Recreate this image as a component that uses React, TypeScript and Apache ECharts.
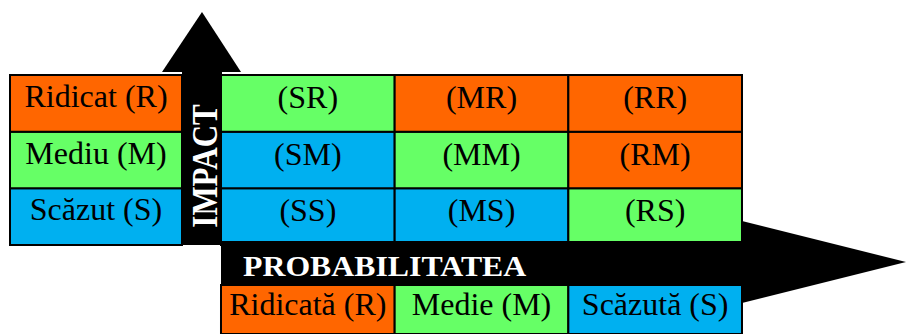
import React, { useEffect, useRef } from "react";
import * as echarts from "echarts";

// Impact levels, listed bottom to top
const impactLevels = ["Scăzut (S)", "Mediu (M)", "Ridicat (R)"];
const impactColors = ["blue", "green", "orange"];
// Probability levels, listed left to right
const probabilityLevels = ["Ridicată (R)", "Medie (M)", "Scăzută (S)"];
const probabilityColors = ["orange", "green", "blue"];
// Matrix codes: row index = impact level (bottom to top), column index = left to right
const matrixCodes = [
  ["(SS)", "(MS)", "(RS)"],
  ["(SM)", "(MM)", "(RM)"],
  ["(SR)", "(MR)", "(RR)"],
];
const matrixColors = [
  ["blue", "blue", "green"],
  ["blue", "green", "orange"],
  ["green", "orange", "orange"],
];
const xTitle = "PROBABILITATEA";
const yTitle = "IMPACT";

const PALETTE: Record<string, string> = {
  orange: "#FF6600",
  green: "#66FF66",
  blue: "#00B0F0",
};
const SERIF = '"Liberation Serif", "Times New Roman", serif';

function cellRenderer(
  getText: (c: number, r: number) => string,
  getColor: (c: number, r: number) => string,
  textOffset: number
) {
  return (params: any, api: any) => {
    const c = api.value(0) as number;
    const r = api.value(1) as number;
    const p = api.coord([c, r]);
    const s = api.size([1, 1]);
    const x0 = p[0] - s[0] / 2;
    const y0 = p[1] - s[1] / 2;
    return {
      type: "group",
      children: [
        {
          type: "rect",
          shape: { x: x0, y: y0, width: s[0], height: s[1] },
          style: { fill: PALETTE[getColor(c, r)], stroke: "#000", lineWidth: 2 },
        },
        {
          type: "text",
          x: p[0],
          y: y0 + textOffset,
          style: {
            text: getText(c, r),
            fill: "#000",
            font: `32px ${SERIF}`,
            align: "center",
            verticalAlign: "middle",
          },
        },
      ],
    };
  };
}

export default function App() {
  const ref = useRef<HTMLDivElement>(null);

  useEffect(() => {
    if (!ref.current) return;
    const chart = echarts.init(ref.current, undefined, { renderer: "svg" });

    const matrixData: number[][] = [];
    matrixCodes.forEach((row, r) => row.forEach((_, c) => matrixData.push([c, r])));
    const impactData = impactLevels.map((_, r) => [0, r]);
    const probData = probabilityLevels.map((_, c) => [c, 0]);

    const hiddenCat = (data: string[], gridIndex: number) => ({
      type: "category" as const,
      data,
      gridIndex,
      show: false,
    });

    chart.setOption({
      animation: false,
      grid: [
        { left: 221, top: 75, width: 521, height: 170 },
        { left: 10, top: 75, width: 172, height: 170 },
        { left: 221, top: 285, width: 521, height: 57 },
      ],
      xAxis: [
        hiddenCat(["c0", "c1", "c2"], 0),
        hiddenCat(["impact"], 1),
        hiddenCat(probabilityLevels, 2),
      ],
      yAxis: [
        hiddenCat(["S", "M", "R"], 0),
        hiddenCat(impactLevels, 1),
        hiddenCat(["prob"], 2),
      ],
      series: [
        {
          type: "custom",
          xAxisIndex: 0,
          yAxisIndex: 0,
          data: matrixData,
          encode: { x: 0, y: 1 },
          renderItem: cellRenderer(
            (c, r) => matrixCodes[r][c],
            (c, r) => matrixColors[r][c],
            22
          ),
        },
        {
          type: "custom",
          xAxisIndex: 1,
          yAxisIndex: 1,
          data: impactData,
          encode: { x: 0, y: 1 },
          renderItem: cellRenderer(
            (_c, r) => impactLevels[r],
            (_c, r) => impactColors[r],
            21
          ),
        },
        {
          type: "custom",
          xAxisIndex: 2,
          yAxisIndex: 2,
          data: probData,
          encode: { x: 0, y: 1 },
          renderItem: cellRenderer(
            (c) => probabilityLevels[c],
            (c) => probabilityColors[c],
            19
          ),
        },
      ],
      graphic: [
        {
          type: "rect",
          z: 100,
          shape: { x: 182, y: 71, width: 40, height: 174 },
          style: { fill: "#000" },
        },
        {
          type: "polygon",
          z: 100,
          shape: { points: [[162, 72], [202, 12], [241, 72]] },
          style: { fill: "#000" },
        },
        {
          type: "rect",
          z: 100,
          shape: { x: 221, y: 241, width: 522, height: 44 },
          style: { fill: "#000" },
        },
        {
          type: "polygon",
          z: 100,
          shape: { points: [[742, 221], [906, 262], [742, 303]] },
          style: { fill: "#000" },
        },
        {
          type: "text",
          z: 101,
          x: 205,
          y: 166,
          rotation: Math.PI / 2,
          scaleY: 1.15,
          style: {
            text: yTitle,
            fill: "#fff",
            font: `bold 31px ${SERIF}`,
            align: "center",
            verticalAlign: "middle",
          },
        },
        {
          type: "text",
          z: 101,
          x: 243,
          y: 266,
          scaleX: 1.06,
          style: {
            text: xTitle,
            fill: "#fff",
            font: `bold 30px ${SERIF}`,
            align: "left",
            verticalAlign: "middle",
          },
        },
      ],
    });

    return () => chart.dispose();
  }, []);

  return (
    <div
      ref={ref}
      style={{ position: "fixed", left: 0, top: 0, width: 906, height: 334, background: "#fff" }}
    />
  );
}
